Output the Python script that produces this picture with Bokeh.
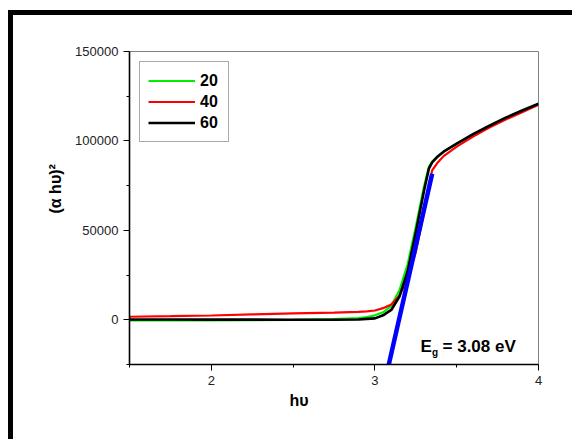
import math
from bokeh.plotting import figure
from bokeh.models import (ColumnDataSource, FixedTicker, BasicTickFormatter, Label,
                          Legend, LegendItem, Div, Spacer, Range1d, Title)
from bokeh.layouts import column, row
from bokeh.embed import file_html
from bokeh.resources import INLINE

# ---- data ----
hv = [1.5, 1.75, 2.0, 2.25, 2.5, 2.75, 2.9, 2.95, 3.0, 3.05, 3.1, 3.15, 3.2,
      3.25, 3.3, 3.33, 3.35, 3.38, 3.42, 3.5, 3.6, 3.7, 3.8, 3.9, 4.0]
s20 = [-400, -400, -300, -200, 0, 400, 1000, 1500, 2500, 4200, 7800, 16500, 31000,
       52000, 74500, 85500, 88500, 91000, 94000, 98500, 103600, 108300, 112800, 116800, 120600]
s40 = [1700, 2000, 2400, 3000, 3600, 4000, 4400, 4700, 5200, 6500, 8500, 13500, 23000,
       38000, 60000, 75000, 83500, 87500, 91500, 96800, 102500, 107500, 112000, 116000, 120200]
s60 = [200, 150, 100, 100, 0, 0, 200, 500, 800, 2500, 5500, 13000, 27000,
       49000, 72000, 84500, 88000, 91000, 94000, 98500, 103800, 108500, 113000, 117000, 120800]
series_names = ["20", "40", "60"]
series_colors = ["#00ee00", "#ff0000", "#000000"]

fit_x = [3.085, 3.35]
fit_y = [-25000, 81600]

x_ticks = [2, 3, 4]
x_minor = [1.5, 2.5, 3.5]
y_ticks = [0, 50000, 100000, 150000]
y_minor = [-25000, 25000, 75000, 125000]

FONT = "Liberation Sans"

p = figure(width=559, height=424, output_backend="svg", toolbar_location=None,
           x_range=Range1d(1.5, 4.0), y_range=Range1d(-25000, 150000),
           min_border_left=116, min_border_right=34, min_border_top=36,
           min_border_bottom=75, margin=0)
p.grid.visible = False
p.outline_line_color = "#808080"
p.outline_line_width = 1
p.background_fill_color = "white"
p.border_fill_color = "white"

src = ColumnDataSource(dict(hv=hv, s20=s20, s40=s40, s60=s60))
r20 = p.line("hv", "s20", source=src, color=series_colors[0], line_width=2.2)
r40 = p.line("hv", "s40", source=src, color=series_colors[1], line_width=2.2)
r60 = p.line("hv", "s60", source=src, color=series_colors[2], line_width=2.6)
p.line(fit_x, fit_y, color="#0000ff", line_width=4.5)

for ax, ticks, minor in ((p.xaxis[0], x_ticks, x_minor), (p.yaxis[0], y_ticks, y_minor)):
    ax.ticker = FixedTicker(ticks=ticks, minor_ticks=minor)
    ax.formatter = BasicTickFormatter(use_scientific=False)
    ax.axis_line_color = "black"
    ax.axis_line_width = 1.6
    ax.major_tick_line_color = "black"
    ax.minor_tick_line_color = "black"
    ax.major_tick_in = 0
    ax.major_tick_out = 6
    ax.minor_tick_in = 0
    ax.minor_tick_out = 3
    ax.major_label_text_font = FONT
    ax.major_label_text_font_size = "13px"
    ax.major_label_text_color = "#222222"
    ax.major_label_standoff = 5

legend = Legend(items=[LegendItem(label=series_names[0], renderers=[r20]),
                       LegendItem(label=series_names[1], renderers=[r40]),
                       LegendItem(label=series_names[2], renderers=[r60])],
                location="top_left", margin=10, padding=8, spacing=0,
                glyph_width=47, glyph_height=21, label_height=21, label_standoff=5,
                label_text_font=FONT, label_text_font_style="bold",
                label_text_font_size="16px", label_text_color="black",
                border_line_color="#555555",
                border_line_width=1, background_fill_color="white",
                background_fill_alpha=1)
p.add_layout(legend)

# axis titles
p.add_layout(Title(text="(α hυ)²", align="left", offset=151, standoff=17,
                   text_font=FONT, text_font_style="bold", text_font_size="16px",
                   text_color="black"), "left")
p.add_layout(Title(text="hυ", align="left", offset=160, standoff=4,
                   text_font=FONT, text_font_style="bold", text_font_size="16px",
                   text_color="black"), "below")

# band gap annotation
p.add_layout(Label(x=3.279, y=-14725, text="E", text_align="left",
                   text_baseline="alphabetic", text_font=FONT, text_font_style="bold",
                   text_font_size="17px", text_color="black"))
p.add_layout(Label(x=3.279, y=-14725, x_offset=11.5, y_offset=-6, text="g", text_align="left",
                   text_baseline="alphabetic", text_font=FONT, text_font_style="bold",
                   text_font_size="10px", text_color="black"))
p.add_layout(Label(x=3.279, y=-14725, x_offset=22, text="= 3.08 eV", text_align="left",
                   text_baseline="alphabetic", text_font=FONT, text_font_style="bold",
                   text_font_size="17px", text_color="black"))

top_bar = Div(width=564, height=5, margin=0, styles={"background-color": "black"})
left_bar = Div(width=5, height=424, margin=0, styles={"background-color": "black"})
inner = column(Spacer(width=564, height=10, margin=0), top_bar,
               row(left_bar, p, spacing=0, margin=0), spacing=0, margin=0)
layout = row(Spacer(width=8, height=439, margin=0), inner, spacing=0, margin=0)

open("out.html", "w").write(file_html(layout, INLINE))
